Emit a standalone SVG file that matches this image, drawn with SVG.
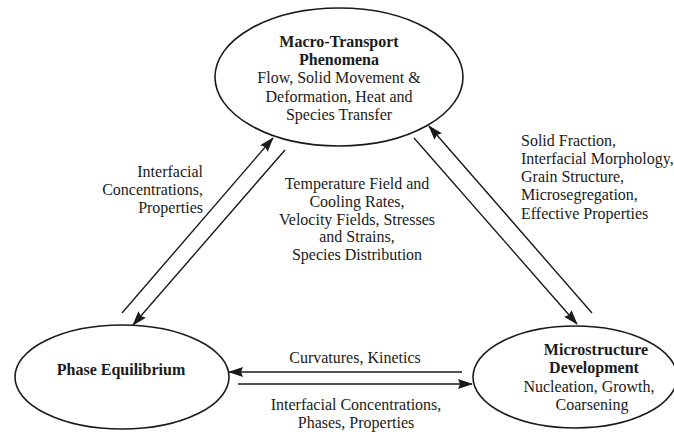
<svg xmlns="http://www.w3.org/2000/svg" width="674" height="434" viewBox="0 0 674 434">
<style>
.node ellipse{fill:#fff;stroke:#1a1a1a;stroke-width:1.6}
text{font-family:"Liberation Serif","Times New Roman",serif;font-size:16px;fill:#1a1a1a}
.b{font-weight:bold}
.c{text-anchor:middle}
.r{text-anchor:end}
.conn line{stroke:#1a1a1a;stroke-width:1.4}
</style>
<defs>
<marker id="ah" markerUnits="userSpaceOnUse" markerWidth="15" markerHeight="10" viewBox="0 0 15 10" refX="14" refY="5" orient="auto">
<path d="M0,0 L15,5 L0,10 L2,5 Z" fill="#1a1a1a"/>
</marker>
</defs>
<rect width="674" height="434" fill="#fff"/>
<g id="macro" class="node">
<ellipse cx="339" cy="77" rx="124" ry="69"/>
<text class="c b" x="339" y="47">Macro-Transport</text>
<text class="c b" x="339" y="65">Phenomena</text>
<text class="c" x="339" y="83">Flow, Solid Movement &amp;</text>
<text class="c" x="339" y="102">Deformation, Heat and</text>
<text class="c" x="339" y="120">Species Transfer</text>
</g>
<g id="phase" class="node">
<ellipse cx="122" cy="377" rx="107" ry="52"/>
<text class="c b" x="121" y="375">Phase Equilibrium</text>
</g>
<g id="micro" class="node">
<ellipse cx="575" cy="377" rx="102" ry="51"/>
<text class="c b" x="596" y="355">Microstructure</text>
<text class="c b" x="594" y="373">Development</text>
<text class="c" x="589" y="392">Nucleation, Growth,</text>
<text class="c" x="592" y="410">Coarsening</text>
</g>
<g id="connectors" class="conn">
<line x1="122" y1="313" x2="273" y2="138" marker-end="url(#ah)"/>
<line x1="285" y1="150" x2="133" y2="325" marker-end="url(#ah)"/>
<line x1="592" y1="313" x2="429" y2="126" marker-end="url(#ah)"/>
<line x1="414" y1="138" x2="577" y2="324" marker-end="url(#ah)"/>
<line x1="462" y1="372" x2="229" y2="372" marker-end="url(#ah)"/>
<line x1="238" y1="384" x2="472" y2="384" marker-end="url(#ah)"/>
</g>
<g id="labels">
<text class="r" x="203" y="177">Interfacial</text>
<text class="r" x="203" y="195">Concentrations,</text>
<text class="r" x="203" y="213">Properties</text>
<text class="c" x="357" y="189">Temperature Field and</text>
<text class="c" x="357" y="207">Cooling Rates,</text>
<text class="c" x="357" y="225">Velocity Fields, Stresses</text>
<text class="c" x="357" y="242">and Strains,</text>
<text class="c" x="357" y="260">Species Distribution</text>
<text x="521" y="146">Solid Fraction,</text>
<text x="521" y="164">Interfacial Morphology,</text>
<text x="521" y="182">Grain Structure,</text>
<text x="521" y="200">Microsegregation,</text>
<text x="521" y="219">Effective Properties</text>
<text class="c" x="355" y="363">Curvatures, Kinetics</text>
<text class="c" x="356" y="410">Interfacial Concentrations,</text>
<text class="c" x="356" y="428">Phases, Properties</text>
</g>
</svg>
